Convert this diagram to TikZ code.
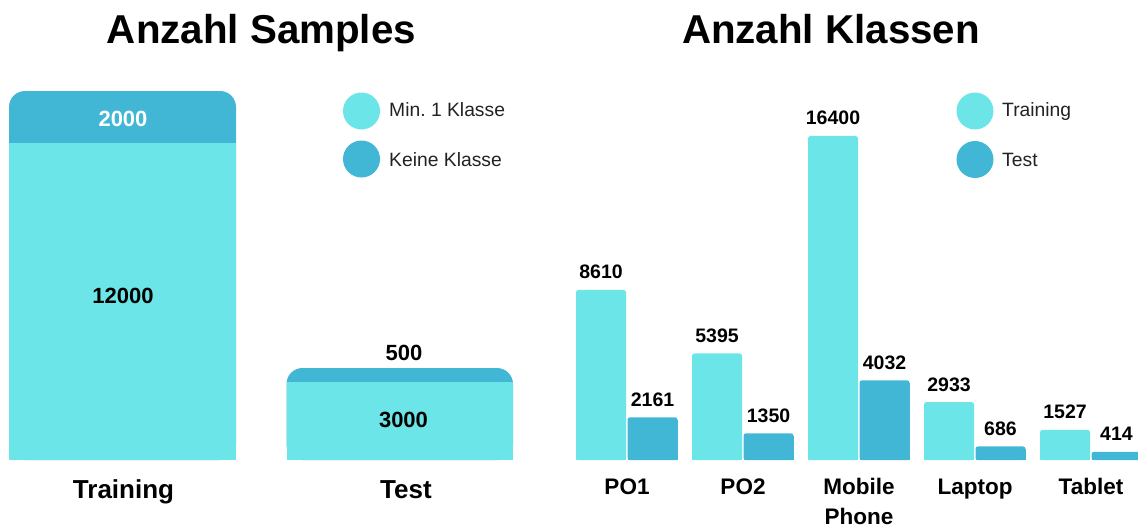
\documentclass[tikz,border=0pt]{standalone}
\usepackage{fontspec}
\setmainfont{Liberation Sans}
\frenchspacing
\definecolor{barlight}{HTML}{6BE5E8}
\definecolor{bardark}{HTML}{42B7D5}
\definecolor{legendtext}{HTML}{222222}
\newcommand{\fsz}[1]{\fontsize{#1}{#1}\selectfont}
\begin{document}
\begin{tikzpicture}[x=1pt,y=-1pt,
  title/.style={font=\fsz{40.3}\bfseries, anchor=base, inner sep=0},
  biglabel/.style={font=\fsz{26}\bfseries, anchor=base, inner sep=0},
  bignum/.style={font=\fsz{22}\bfseries, anchor=base, inner sep=0},
  catlabel/.style={font=\fsz{22.5}\bfseries, anchor=base, inner sep=0},
  numlabel/.style={font=\fsz{19.5}\bfseries, anchor=base, inner sep=0},
  legdot/.style={circle, inner sep=0, minimum size=37},
  legtext/.style={font=\fsz{19.3}, text=legendtext, anchor=base west, inner sep=0}]
\useasboundingbox (0,0) rectangle (1138,527);
\clip (0,0) rectangle (1138,527);

% ---------- Anzahl Samples ----------
\node[title] (titleA) at (261.5,44) {Anzahl Samples};

% Training: stacked bar
\fill[bardark, rounded corners=16] (9,91) rectangle (236,460);
\fill[barlight] (9,143) rectangle (236,460);
\node[bignum, text=white] (trKeine) at (123,126) {2000};
\node[bignum] (trMin) at (123,303) {12000};
\node[biglabel] (trLabel) at (123.5,498) {Training};

% Test: stacked bar
\fill[bardark, rounded corners=16] (286.5,368) rectangle (513,460);
\fill[barlight] (286.5,381.5) rectangle (513,460);
\node[bignum] (teKeine) at (404,360) {500};
\node[bignum] (teMin) at (403.5,427) {3000};
\node[biglabel] (teLabel) at (406,498) {Test};

% legend
\node[legdot, fill=barlight] (legA1) at (361.5,111) {};
\node[legdot, fill=bardark] (legA2) at (361.5,159) {};
\node[legtext] (legA1t) at (389,117) {Min.\ 1 Klasse};
\node[legtext] (legA2t) at (389,166) {Keine Klasse};

% ---------- Anzahl Klassen ----------
\node[title] (titleB) at (831,44) {Anzahl Klassen};

% bar heights are given in hundreds (pgfmath stays below 16384)
\foreach \n/\x/\htr/\hte/\tr/\te/\lab in {
    po1/576/86.10/21.61/8610/2161/PO1,
    po2/692/53.95/13.50/5395/1350/PO2,
    mob/808/164.00/40.32/16400/4032/Mobile,
    lap/924/29.33/6.86/2933/686/Laptop,
    tab/1040/15.27/4.14/1527/414/Tablet}{
  \pgfmathsetmacro\ytr{460-\htr*1.97561}
  \pgfmathsetmacro\yte{460-\hte*1.97561}
  % training bar
  \fill[barlight, rounded corners=2.5] (\x,\ytr) rectangle (\x+50,460);
  \fill[barlight] (\x,\ytr+3) rectangle (\x+50,460);
  % test bar
  \fill[bardark, rounded corners=2.5] (\x+51.5,\yte) rectangle (\x+101.5,460);
  \fill[bardark] (\x+51.5,\yte+3) rectangle (\x+101.5,460);
  \node[numlabel] (\n-tr) at (\x+25,\ytr-11) {\tr};
  \node[numlabel] (\n-te) at (\x+76.5,\yte-11) {\te};
  \node[catlabel] (\n-cat) at (\x+51,494) {\lab};
}
\node[catlabel] (mob-cat2) at (859,524) {Phone};

% legend
\node[legdot, fill=barlight] (legB1) at (975,111) {};
\node[legdot, fill=bardark] (legB2) at (975,159.5) {};
\node[legtext] (legB1t) at (1002,117) {Training};
\node[legtext] (legB2t) at (1002,166) {Test};
\end{tikzpicture}
\end{document}
